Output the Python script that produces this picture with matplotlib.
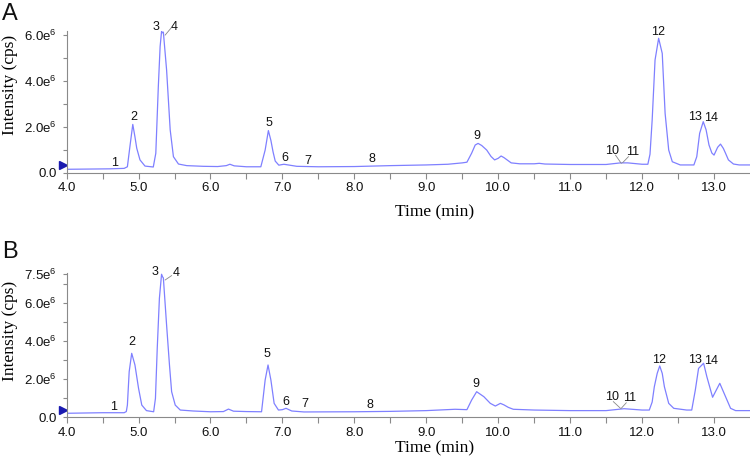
import matplotlib
matplotlib.use("Agg")
import matplotlib.pyplot as plt
import numpy as np

plt.rcParams['font.family'] = ['Liberation Sans', 'DejaVu Sans']
plt.rcParams['mathtext.fontset'] = 'custom'
plt.rcParams['mathtext.rm'] = 'Liberation Sans'
plt.rcParams['mathtext.it'] = 'Liberation Sans'

# ---------------- data (intensity in units of 1e6 cps) ----------------
time_A = [4.00, 4.30, 4.60, 4.80, 4.845, 4.88, 4.92, 4.95, 4.975, 5.02, 5.09, 5.205, 5.24,
          5.275, 5.30, 5.32, 5.33, 5.345, 5.39, 5.44, 5.485, 5.555, 5.67, 5.90, 6.10, 6.22,
          6.27, 6.33, 6.50, 6.70, 6.76, 6.805, 6.84, 6.87, 6.90, 6.95, 7.02, 7.08, 7.20, 7.50,
          8.00, 8.50, 9.00, 9.30, 9.50, 9.565, 9.63, 9.68, 9.72, 9.77, 9.84, 9.90, 9.95, 10.00,
          10.04, 10.08, 10.18, 10.30, 10.50, 10.57, 10.65, 11.00, 11.50, 11.70, 11.80, 12.00,
          12.08, 12.11, 12.14, 12.18, 12.23, 12.28, 12.32, 12.37, 12.42, 12.53, 12.72, 12.76,
          12.80, 12.85, 12.89, 12.93, 12.97, 13.00, 13.05, 13.09, 13.13, 13.16, 13.20, 13.27,
          13.35, 13.50]
inten_A = [0.14, 0.15, 0.16, 0.18, 0.25, 1.13, 2.10, 1.56, 1.06, 0.55, 0.28, 0.24, 0.84,
           3.75, 5.50, 6.16, 6.10, 6.13, 4.48, 1.86, 0.69, 0.37, 0.30, 0.27, 0.26, 0.30,
           0.36, 0.29, 0.25, 0.25, 0.98, 1.83, 1.40, 0.90, 0.50, 0.32, 0.36, 0.33, 0.27, 0.25,
           0.26, 0.30, 0.33, 0.36, 0.42, 0.45, 0.84, 1.20, 1.27, 1.18, 0.98, 0.70, 0.55, 0.62,
           0.72, 0.65, 0.42, 0.38, 0.38, 0.40, 0.37, 0.35, 0.35, 0.42, 0.42, 0.36,
           0.36, 0.80, 2.29, 4.91, 5.86, 5.20, 2.58, 0.98, 0.47, 0.33, 0.33, 0.69,
           1.71, 2.22, 1.86, 1.20, 0.85, 0.76, 1.10, 1.24, 1.05, 0.84, 0.55, 0.37,
           0.33, 0.33]

time_B = [4.00, 4.50, 4.80, 4.83, 4.845, 4.87, 4.905, 4.95, 5.00, 5.045, 5.11, 5.21, 5.235,
          5.26, 5.29, 5.32, 5.335, 5.345, 5.39, 5.43, 5.46, 5.51, 5.58, 5.76, 6.00, 6.18,
          6.25, 6.32, 6.50, 6.71, 6.76, 6.80, 6.84, 6.885, 6.945, 7.00, 7.05, 7.13, 7.30,
          8.00, 8.50, 9.00, 9.40, 9.565, 9.63, 9.70, 9.80, 9.89, 9.96, 10.03, 10.08, 10.14,
          10.21, 10.50, 11.00, 11.50, 11.75, 12.00, 12.10, 12.14, 12.17, 12.21, 12.245, 12.28,
          12.31, 12.37, 12.44, 12.62, 12.69, 12.74, 12.785, 12.855, 12.90, 12.98, 13.08,
          13.16, 13.23, 13.30, 13.50]
inten_B = [0.21, 0.24, 0.24, 0.30, 0.64, 2.39, 3.35, 2.74, 1.52, 0.64, 0.35, 0.29, 0.99,
           3.61, 6.23, 7.49, 7.35, 7.30, 4.83, 2.74, 1.34, 0.64, 0.38, 0.33, 0.29, 0.30,
           0.43, 0.32, 0.30, 0.29, 1.95, 2.74, 1.95, 0.73, 0.38, 0.40, 0.47, 0.33, 0.28,
           0.29, 0.31, 0.35, 0.42, 0.40, 0.90, 1.34, 1.08, 0.73, 0.59, 0.73, 0.65, 0.52,
           0.42, 0.38, 0.35, 0.35, 0.45, 0.38, 0.38, 0.80, 1.60, 2.30, 2.69, 2.30,
           1.60, 0.73, 0.47, 0.38, 0.38, 1.43, 2.56, 2.83, 2.13, 1.05, 1.78,
           1.08, 0.47, 0.35, 0.35]

peak_ids = ['1', '2', '3', '4', '5', '6', '7', '8', '9', '10', '11', '12', '13', '14']
label_t_A = [4.66, 4.93, 5.245, 5.49, 6.815, 7.03, 7.36, 8.24, 9.70, 11.58, 11.87, 12.22, 12.73, 12.96]
label_i_A = [0.40, 2.41, 6.37, 6.37, 2.15, 0.65, 0.52, 0.59, 1.59, 0.95, 0.88, 6.15, 2.41, 2.37]
label_t_B = [4.65, 4.91, 5.23, 5.53, 6.78, 7.05, 7.315, 8.22, 9.69, 11.58, 11.83, 12.23, 12.74, 12.96]
label_i_B = [0.55, 3.96, 7.59, 7.54, 3.31, 0.82, 0.70, 0.64, 1.74, 1.04, 0.99, 3.01, 3.01, 2.96]

# leader lines: (t0, i0, t1, i1)
leaders_A = [(5.37, 6.00, 5.45, 6.30), (11.63, 0.76, 11.71, 0.40), (11.81, 0.69, 11.73, 0.43)]
leaders_B = [(5.37, 7.19, 5.46, 7.42), (11.60, 0.82, 11.70, 0.47), (11.78, 0.76, 11.71, 0.47)]

xticks = [4.0, 5.0, 6.0, 7.0, 8.0, 9.0, 10.0, 11.0, 12.0, 13.0]
yticks_A = [0.0, 2.0, 4.0, 6.0]
ytick_labels_A = ['0.0', r'2.0e$^{6}$', r'4.0e$^{6}$', r'6.0e$^{6}$']
yticks_B = [0.0, 2.0, 4.0, 6.0, 7.5]
ytick_labels_B = ['0.0', r'2.0e$^{6}$', r'4.0e$^{6}$', r'6.0e$^{6}$', r'7.5e$^{6}$']

LINE = '#7f80ff'
SPINE = '#8a8a8a'

fig = plt.figure(figsize=(7.5, 4.66), dpi=100)
W, H = 750.0, 466.0

def make_axes(bottom_px, top_px):
    return fig.add_axes([66.6 / W, 1 - bottom_px / H, 1 - 66.6 / W, (bottom_px - top_px) / H])

panels = [
    (make_axes(172.5, 30.5), time_A, inten_A, 6.2, yticks_A, ytick_labels_A,
     label_t_A, label_i_A, leaders_A, 0.33, 'A', 13.5, 0.62, -0.28),
    (make_axes(417.3, 273.3), time_B, inten_B, 7.54, yticks_B, ytick_labels_B,
     label_t_B, label_i_B, leaders_B, 0.38, 'B', 252.5, 0.599, -0.213),
]

for (ax, t, inten, ytop, yt, ytl, lt, li, leaders, tri_y, letter, letter_y,
     ylab_y, xlab_y) in panels:
    ax.plot(np.array(t), np.array(inten) * 1e6, color=LINE, lw=0.9)
    ax.set_xlim(4.0, 13.5)
    ax.set_ylim(0, ytop * 1e6)
    for s in ['top', 'right']:
        ax.spines[s].set_visible(False)
    for s in ['left', 'bottom']:
        ax.spines[s].set_color(SPINE)
        ax.spines[s].set_linewidth(0.8)
    ax.set_xticks(xticks)
    ax.set_xticklabels(['%.1f' % v for v in xticks])
    ax.set_xticks(np.arange(4.5, 13.5, 1.0), minor=True)
    ax.set_yticks([v * 1e6 for v in yt])
    ax.set_yticklabels(ytl)
    ax.set_yticks([v * 1e6 for v in [1, 3, 5, 7] if v < ytop], minor=True)
    ax.tick_params(axis='both', which='both', colors=SPINE, labelcolor='#111111',
                   labelsize=9.5, width=0.8)
    ax.tick_params(axis='x', which='both', length=4, pad=3)
    ax.tick_params(axis='y', which='both', length=3, pad=4)
    for pid, x, y in zip(peak_ids, lt, li):
        ax.text(x, y * 1e6, pid, ha='center', va='center', fontsize=9,
                color='#111111', clip_on=False)
    for (t0, i0, t1, i1) in leaders:
        ax.plot([t0, t1], [i0 * 1e6, i1 * 1e6], color='#888888', lw=0.6, clip_on=False)
    ax.plot([3.95], [tri_y * 1e6], marker='>', color='#1a1ab0', markersize=6,
            clip_on=False, linestyle='none')
    ax.set_xlabel('Time (min)', family=['Liberation Serif'], fontsize=12.5)
    ax.xaxis.label.set_va('center')
    ax.xaxis.set_label_coords((435 - 66.6) / 683.4, xlab_y)
    ax.set_ylabel('Intensity (cps)', family=['Liberation Serif'], fontsize=12.5)
    ax.yaxis.label.set_va('center')
    ax.yaxis.set_label_coords(-0.0828, ylab_y)
    fig.text(9.5 / W, 1 - letter_y / H, letter, fontsize=17, ha='center', va='center',
             color='#111111')

fig.savefig('out.png', dpi=100)
